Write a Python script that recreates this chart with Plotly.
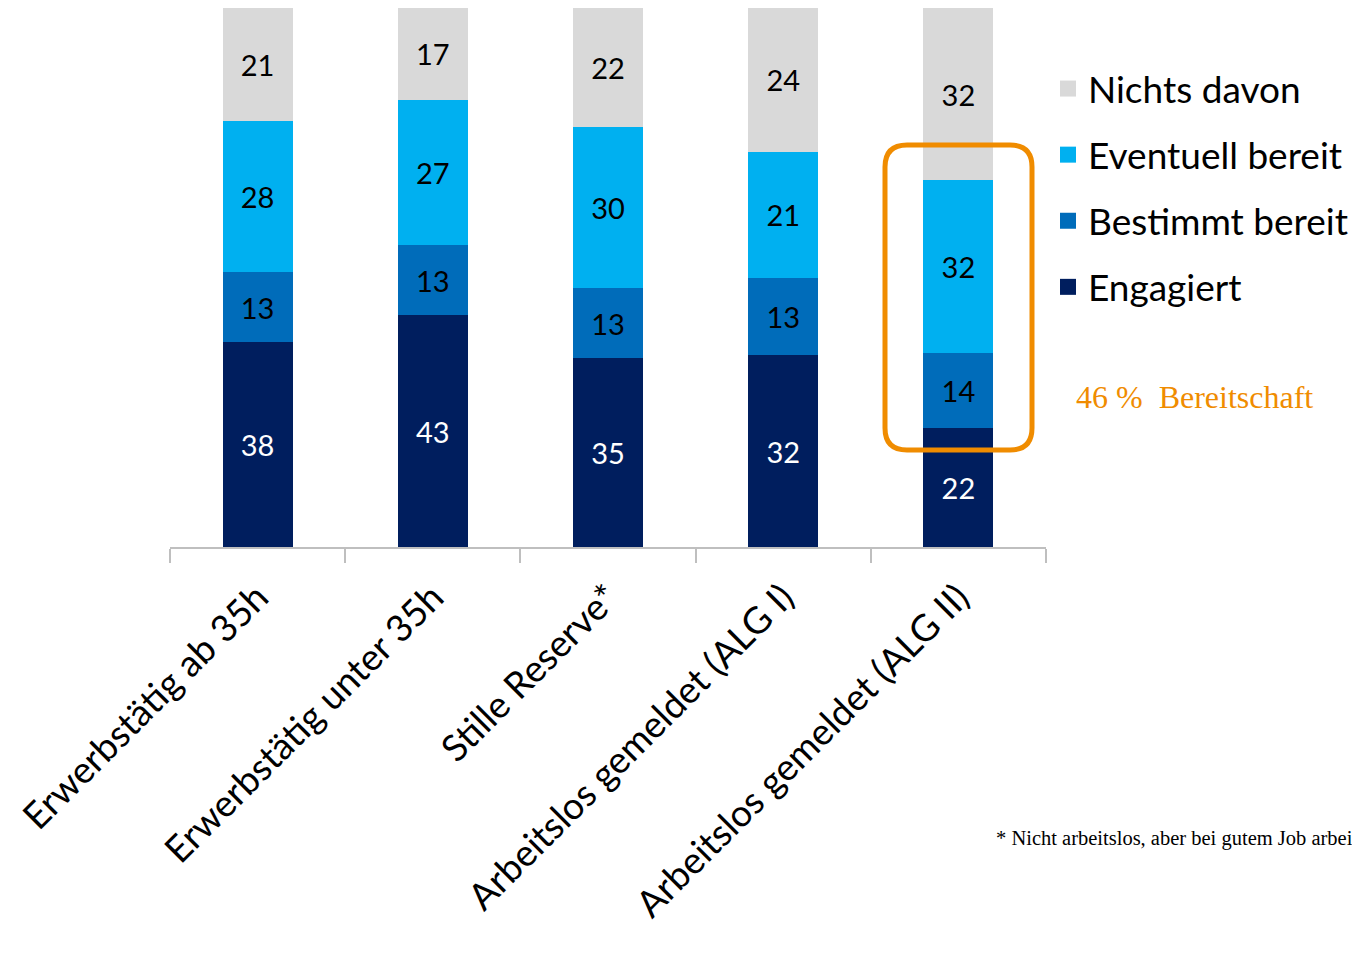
import plotly.graph_objects as go

categories = [
    "Erwerbstätig ab 35h",
    "Erwerbstätig unter 35h",
    "Stille Reserve*",
    "Arbeitslos gemeldet (ALG I)",
    "Arbeitslos gemeldet (ALG II)",
]
engagiert = [38, 43, 35, 32, 22]
bestimmt = [13, 13, 13, 13, 14]
eventuell = [28, 27, 30, 21, 32]
nichts = [21, 17, 22, 24, 32]

series = [
    ("Engagiert", engagiert, "#001E5E", "white"),
    ("Bestimmt bereit", bestimmt, "#006CBA", "black"),
    ("Eventuell bereit", eventuell, "#00B0F0", "black"),
    ("Nichts davon", nichts, "#D9D9D9", "black"),
]

FONT = "Lato"
fig = go.Figure()
for name, vals, col, tcol in series:
    fig.add_trace(go.Bar(
        x=categories, y=vals, name=name, marker=dict(color=col, line=dict(width=0)),
        text=[str(v) for v in vals], textposition="inside", insidetextanchor="middle",
        textangle=0, textfont=dict(size=29, color=tcol, family=FONT),
        showlegend=False, hoverinfo="skip",
    ))

# legend entries (top to bottom)
for name, vals, col, tcol in reversed(series):
    fig.add_trace(go.Scatter(
        x=[None], y=[None], mode="markers", name=name, legendgroup=name,
        marker=dict(symbol="square", size=22, color=col),
    ))

# page geometry (the figure sits at an 8px body offset)
OFF = 8
W, H = 1344, 943
L, R, T, B = 170, 1046, 8, 547          # plot area in page pixels
pw, ph = R - L, B - T

# highlight box around "Bereitschaft" segments of last bar
x0 = (885 - L) / pw
x1 = (1032 - L) / pw
y0 = (B - 450) / ph
y1 = (B - 145) / ph
rx, ry = 22 / pw, 22 / ph
path = (f"M {x0+rx},{y0} L {x1-rx},{y0} Q {x1},{y0} {x1},{y0+ry} "
        f"L {x1},{y1-ry} Q {x1},{y1} {x1-rx},{y1} L {x0+rx},{y1} "
        f"Q {x0},{y1} {x0},{y1-ry} L {x0},{y0+ry} Q {x0},{y0} {x0+rx},{y0} Z")
fig.add_shape(type="path", path=path, xref="paper", yref="paper",
              line=dict(color="#F08C00", width=5))

fig.add_annotation(text="46 %  Bereitschaft", xref="paper", yref="paper",
                   x=(1194 - L) / pw, y=(B - 397) / ph, showarrow=False,
                   xanchor="center", yanchor="middle",
                   font=dict(family="Liberation Serif", size=32, color="#F08C00"))

fig.add_annotation(text="* Nicht arbeitslos, aber bei gutem Job arbei",
                   xref="paper", yref="paper",
                   x=(994 - L) / pw, y=(B - 838) / ph, showarrow=False,
                   xanchor="left", yanchor="middle",
                   font=dict(family="Liberation Serif", size=20.5, color="black"))

fig.update_layout(
    width=W, height=H, barmode="stack", barnorm="percent", bargap=0.6,
    margin=dict(l=L - OFF, r=W - (R - OFF), t=T - OFF, b=H - (B - OFF), autoexpand=False),
    paper_bgcolor="white", plot_bgcolor="white",
    font=dict(family=FONT, color="black"),
    legend=dict(x=(1048 - L) / pw, y=(B - 58) / ph, xanchor="left", yanchor="top",
                font=dict(size=37, family=FONT, color="black"),
                tracegroupgap=15, bgcolor="rgba(0,0,0,0)", itemwidth=30),
    showlegend=True,
)
fig.update_xaxes(type="category", showline=True, linecolor="#BFBFBF", linewidth=2,
                 ticks="outside", tickson="boundaries", ticklen=14, tickcolor="#BFBFBF",
                 tickwidth=2, tickangle=-45, tickfont=dict(size=37, family=FONT, color="black"),
                 ticklabelstandoff=12,
                 showgrid=False, zeroline=False, automargin=False)
fig.update_yaxes(range=[0, 100], visible=False, showgrid=False, automargin=False)

fig.write_html("out.html")
